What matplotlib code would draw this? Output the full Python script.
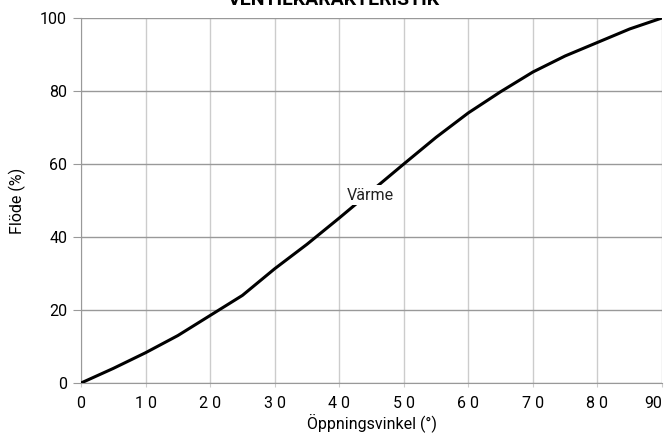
import matplotlib
matplotlib.use('Agg')
import matplotlib.pyplot as plt

# Ventilkarakteristik - flöde mot öppningsvinkel
vinkel = [0, 5, 10, 15, 20, 25, 30, 35, 40, 45, 50, 55, 60, 65, 70, 75, 80, 85, 90]
flode = [0, 4, 8.3, 13, 18.5, 24, 31.3, 38, 45.2, 52.6, 60, 67.3, 74, 79.8, 85.2, 89.6, 93.3, 97, 100]
x_ticks = [0, 10, 20, 30, 40, 50, 60, 70, 80, 90]
y_ticks = [0, 20, 40, 60, 80, 100]

plt.rcParams['font.family'] = ['Roboto', 'DejaVu Sans']

fig = plt.figure(figsize=(6.68, 4.41), dpi=100)
ax = fig.add_axes([0.1213, 0.1315, 0.8697, 0.8277])

ax.plot(vinkel, flode, color='black', lw=2.2, solid_capstyle='round',
        solid_joinstyle='round', zorder=3)
ax.text(44.8, 51.5, 'Värme', fontsize=11.5, color='#222222', ha='center', va='center',
        bbox=dict(facecolor='white', edgecolor='none', pad=1.5), zorder=4)

ax.set_xlim(0, 90)
ax.set_ylim(0, 100)
ax.set_xticks(x_ticks)
ax.set_yticks(y_ticks)
# spaced digits like the original, last one squeezed against the edge
labels = [' '.join(str(v)) for v in x_ticks[:-1]] + [str(x_ticks[-1])]
ax.set_xticklabels(labels)
ax.get_xticklabels()[-1].set_ha('right')
ax.xaxis.grid(True, color='#cccccc', lw=1.0)
ax.yaxis.grid(True, color='#999999', lw=1.0)
ax.set_axisbelow(True)
for s in ['top', 'right']:
    ax.spines[s].set_visible(False)
for s in ['left', 'bottom']:
    ax.spines[s].set_color('#999999')
ax.tick_params(axis='y', length=6, color='#999999', labelsize=11.5, pad=4)
ax.tick_params(axis='x', length=3, color='#cccccc', labelsize=11.5, pad=6)

ax.set_xlabel('Öppningsvinkel (°)', fontsize=11.5, labelpad=2)
ax.set_ylabel('Flöde (%)', fontsize=11.5, labelpad=10)

fig.text(0.5, 1.0, 'VENTILKARAKTERISTIK', fontsize=14, fontweight='bold',
         ha='center', va='center')

plt.savefig('out.png', dpi=100)
